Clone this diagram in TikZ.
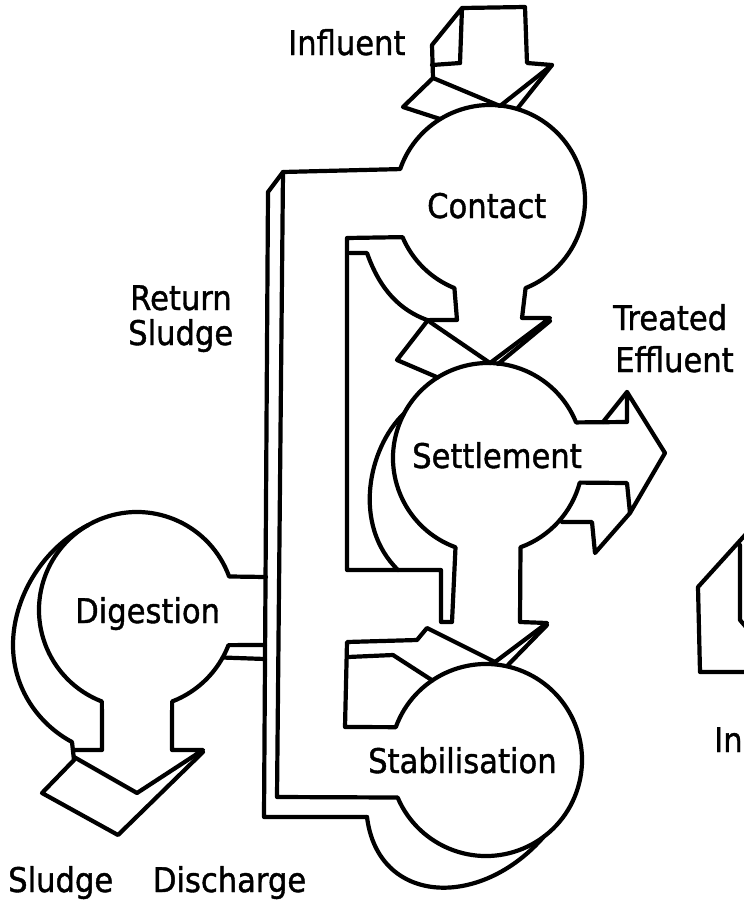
\documentclass[tikz,border=0pt]{standalone}
\usepackage{fontspec}
\newfontfamily\lettering[FakeStretch=0.9,FakeBold=1.2]{DejaVu Sans}
\usetikzlibrary{calc}

\tikzset{
  outline/.style={line width=4.2pt, line join=round, line cap=round},
  lbl/.style={font=\lettering\fontsize{34}{40}\selectfont, inner sep=0pt, anchor=base west}
}

\begin{document}
\begin{tikzpicture}[x=1pt,y=-1pt]
\useasboundingbox (0,0) rectangle (744,903);
\clip (0,0) rectangle (744,903);

% Tank centres and radius
\def\rad{95}
\coordinate (contact) at (490,200);
\coordinate (settle) at (488,458);
\coordinate (stab) at (486,760);
\coordinate (digest) at (137,610);

% Influent arrow
\draw[outline] (460,63) -- (462,8) -- (525,7) -- (527,63) -- (552,65) -- (500,106) -- (433,78) -- (432,45) -- (462,8);
\draw[outline] (432,65) -- (460,63);
\draw[outline] (433,78) -- (403,107) -- (440,119);
\draw[outline] (552,65) -- (517,109);

% Contact tank with the return sludge pipe
\draw[outline] (367,817) -- (264,817) -- (268,192) -- (283,172)
    -- ($(contact)+(199:\rad)$) arc[start angle=199, end angle=428, radius=\rad]
    -- (522,318) -- (550,318) -- (490,363);
\draw[outline] (350,253) -- (367,253) .. controls (380,290) and (400,310) .. (427,320);

% Contact to settlement, settlement and treated effluent
\draw[outline] (430,320) -- (457,320)
    -- ($(contact)+(112:\rad)$) arc[start angle=112, end angle=157, radius=\rad]
    -- (347,238) -- (347,570) -- (441,570) -- (441,622) -- (452,622)
    -- ($(settle)+(110:\rad)$) arc[start angle=110, end angle=338, radius=\rad]
    -- (627,422) -- (627,392) -- (665,453) -- (630,513) -- (627,483)
    -- ($(settle)+(15:\rad)$) arc[start angle=15, end angle=70, radius=\rad]
    -- (520,622) -- (547,623) -- (495,662);
\draw[outline] (430,322) -- (490,363);
\draw[outline] (550,321) -- (498,364);
\draw[outline] (428,320) -- (397,360) -- ($(settle)+(238:\rad)$);
\draw[outline] ($(settle)+(208:\rad)$) .. controls (368,448) and (352,525) .. (398,570);
\draw[outline] (603,422) -- (627,392);
\draw[outline] (630,513) -- (595,553) -- (592,522) -- (562,522);

% Settlement to stabilisation, stabilisation tank
\draw[outline] (495,662) -- (427,628) -- (417,640) -- (347,642) -- (345,727)
    -- ($(stab)+(200:96)$) arc[start angle=200, end angle=517, radius=96]
    -- (277,797) -- (283,172);
\draw[outline] (547,625) -- (507,666);
\draw[outline] (348,657) -- (393,655) -- ($(stab)+(236:96)$);
\draw[outline] (367,817) .. controls (378,905) and (480,910) .. ($(stab)+(53:96)$);

% Digestion tank and sludge discharge
\draw[outline] (266,577) -- ($(digest)+(340:98)$) arc[start angle=340, end angle=111, radius=98]
    -- (102,750) -- (74,750);
\draw[outline] (265,645) -- ($(digest)+(21:98)$) arc[start angle=21, end angle=69, radius=98]
    -- (172,750) -- (203,750) -- (137,793) -- (74,757);
\draw[outline] ($(digest)+(29:98)$) -- (265,659);
\draw[outline] (74,760) -- (42,793) -- (118,835) -- (203,752);
\draw[outline] ($(digest)+(240:98)$) .. controls (40,550) and (13,600) .. (13,645)
    .. controls (13,690) and (40,725) .. (72,742) -- (74,760);

% Next plant, cut off at the edge
\draw[outline] (746,534) -- (698,587) -- (700,672) -- (746,672);
\draw[outline] (740,545) -- (740,620) -- (746,627);

% Labels
\node[lbl] (influent) at (288,55) {Influent};
\node[lbl] (contactlbl) at (427,218) {Contact};
\node[lbl] (return) at (130,310) {Return};
\node[lbl] (sludge) at (128,345) {Sludge};
\node[lbl] (treated) at (613,330) {Treated};
\node[lbl] (effluent) at (615,372) {Effluent};
\node[lbl] (settlelbl) at (412,468) {Settlement};
\node[lbl] (digestlbl) at (75,623) {Digestion};
\node[lbl] (stablbl) at (368,773) {Stabilisation};
\node[lbl] (discharge) at (8,892) {Sludge\ \hspace{30pt}Discharge};
\node[lbl] (nextin) at (714,752) {In};

\end{tikzpicture}
\end{document}
